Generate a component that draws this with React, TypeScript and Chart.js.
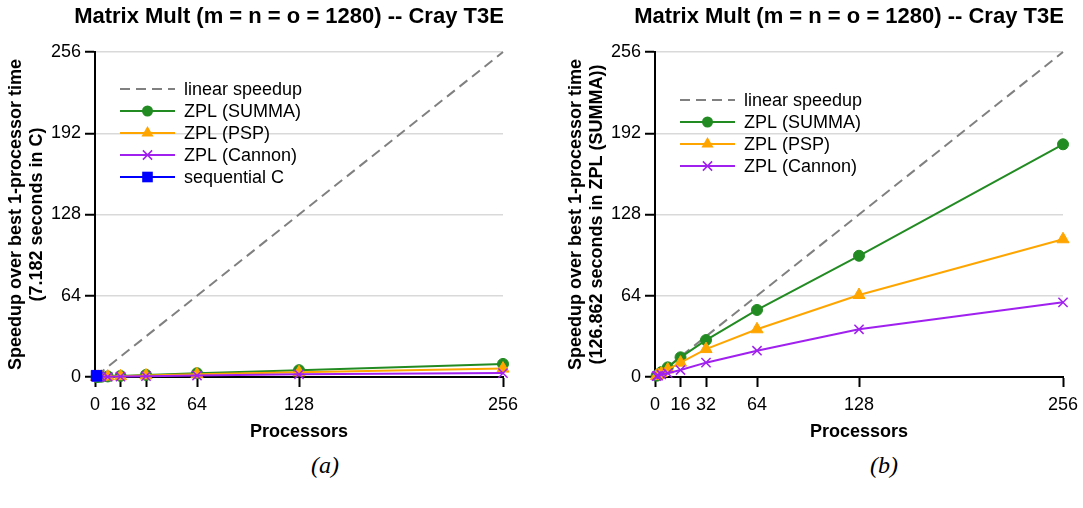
import React, { useEffect, useRef } from "react";
import { Chart, registerables } from "chart.js";

Chart.register(...registerables);

const FONT = "'Liberation Sans', Arial, Helvetica, sans-serif";

// ---- data ----
const processors = [1, 2, 4, 8, 16, 32, 64, 128, 256];
const linearSpeedup = [1, 2, 4, 8, 16, 32, 64, 128, 256];

// (a) speedup relative to sequential C (7.182 s)
const summaA = [0.057, 0.11, 0.22, 0.43, 0.88, 1.65, 2.99, 5.4, 10.3];
const pspA = [0.045, 0.09, 0.17, 0.34, 0.64, 1.25, 2.13, 3.66, 6.6];
const cannonA = [0.034, 0.06, 0.11, 0.17, 0.31, 0.64, 1.17, 2.13, 3.1];
const seqCProcessors = [1];
const seqCA = [1];

// (b) speedup relative to ZPL SUMMA on 1 processor (126.862 s)
const summaB = [1.0, 1.95, 3.9, 7.6, 15.5, 29.1, 52.8, 95.5, 183.3];
const pspB = [0.8, 1.6, 3.0, 6.0, 11.3, 22.0, 37.6, 64.6, 108.5];
const cannonB = [0.6, 1.0, 2.0, 3.0, 5.5, 11.3, 20.7, 37.6, 58.8];

const xTicks = [0, 16, 32, 64, 128, 256];
const yTicks = [0, 64, 128, 192, 256];

const chartTitle = "Matrix Mult (m = n = o = 1280) -- Cray T3E";
const xTitle = "Processors";
const yTitleA = ["Speedup over best 1-processor time", "(7.182 seconds in C)"];
const yTitleB = ["Speedup over best 1-processor time", "(126.862 seconds in ZPL (SUMMA))"];

const GRAY = "#808080";
const GREEN = "#228B22";
const ORANGE = "#FFA500";
const PURPLE = "#A020F0";
const BLUE = "#0000FF";

type SeriesDef = {
  label: string;
  xs: number[];
  ys: number[];
  color: string;
  style: string | null;
  radius: number;
  dash?: boolean;
};

function seriesFor(which: "a" | "b"): SeriesDef[] {
  const base: SeriesDef[] = [
    { label: "linear speedup", xs: processors, ys: linearSpeedup, color: GRAY, style: null, radius: 0, dash: true },
    { label: "ZPL (SUMMA)", xs: processors, ys: which === "a" ? summaA : summaB, color: GREEN, style: "circle", radius: 5.5 },
    { label: "ZPL (PSP)", xs: processors, ys: which === "a" ? pspA : pspB, color: ORANGE, style: "triangle", radius: 7 },
    { label: "ZPL (Cannon)", xs: processors, ys: which === "a" ? cannonA : cannonB, color: PURPLE, style: "crossRot", radius: 6.5 },
  ];
  if (which === "a") {
    base.push({ label: "sequential C", xs: seqCProcessors, ys: seqCA, color: BLUE, style: "rect", radius: 7.5 });
  }
  return base;
}

function drawMarker(ctx: CanvasRenderingContext2D, style: string, x: number, y: number, r: number, color: string) {
  ctx.save();
  ctx.fillStyle = color;
  ctx.strokeStyle = color;
  ctx.lineWidth = 1.5;
  ctx.beginPath();
  if (style === "circle") {
    ctx.arc(x, y, r, 0, Math.PI * 2);
    ctx.fill();
  } else if (style === "triangle") {
    ctx.moveTo(x, y - r);
    ctx.lineTo(x + r * Math.cos(Math.PI / 6), y + r * Math.sin(Math.PI / 6));
    ctx.lineTo(x - r * Math.cos(Math.PI / 6), y + r * Math.sin(Math.PI / 6));
    ctx.closePath();
    ctx.fill();
  } else if (style === "crossRot") {
    const d = r * Math.SQRT1_2;
    ctx.moveTo(x - d, y - d);
    ctx.lineTo(x + d, y + d);
    ctx.moveTo(x - d, y + d);
    ctx.lineTo(x + d, y - d);
    ctx.stroke();
  } else if (style === "rect") {
    const s = r * Math.SQRT1_2;
    ctx.fillRect(x - s, y - s, 2 * s, 2 * s);
  }
  ctx.restore();
}

const decorPlugin = {
  id: "panelDecor",
  afterDraw(chart: any, _args: any, opts: any) {
    const ctx: CanvasRenderingContext2D = chart.ctx;
    const ca = chart.chartArea;
    ctx.save();
    ctx.fillStyle = "#000";
    ctx.font = `bold 22px ${FONT}`;
    ctx.textAlign = "center";
    ctx.textBaseline = "middle";
    ctx.fillText(opts.title, ca.left + 194, 17);

    const items: SeriesDef[] = opts.items;
    const rowH = 22;
    const y0 = ca.top + 81 - ((items.length - 1) * rowH) / 2;
    items.forEach((it, i) => {
      const y = y0 + i * rowH;
      const x1 = ca.left + 25;
      const x2 = ca.left + 80;
      ctx.save();
      ctx.strokeStyle = it.color;
      ctx.lineWidth = 2;
      ctx.setLineDash(it.dash ? [10, 6] : []);
      ctx.beginPath();
      ctx.moveTo(x1, y);
      ctx.lineTo(x2, y);
      ctx.stroke();
      ctx.restore();
      if (it.style) drawMarker(ctx, it.style, (x1 + x2) / 2, y, it.radius, it.color);
      ctx.fillStyle = "#000";
      ctx.font = `18px ${FONT}`;
      ctx.textAlign = "left";
      ctx.textBaseline = "middle";
      ctx.fillText(it.label, ca.left + 89, y + 1);
    });
    ctx.restore();
  },
};

function Panel({ which, width, yTitle }: { which: "a" | "b"; width: number; yTitle: string[] }) {
  const ref = useRef<HTMLCanvasElement | null>(null);
  useEffect(() => {
    if (!ref.current) return;
    const defs = seriesFor(which);
    const n = defs.length;
    const datasets = defs.map((s, i) => ({
      label: s.label,
      data: s.xs.map((x, k) => ({ x, y: s.ys[k] })),
      borderColor: s.color,
      backgroundColor: s.color,
      borderWidth: 2,
      borderDash: s.dash ? [10, 6] : [],
      pointStyle: s.style || "circle",
      pointRadius: s.radius,
      pointBorderWidth: s.style === "crossRot" ? 1.5 : 1,
      pointHoverRadius: s.radius,
      showLine: true,
      tension: 0,
      clip: false as any,
      order: n - i,
    }));
    const chart = new Chart(ref.current, {
      type: "line",
      data: { datasets },
      plugins: [decorPlugin as any],
      options: {
        animation: false,
        responsive: false,
        events: [],
        layout: { padding: { top: 52, right: width - 503, left: 0, bottom: 0 } },
        plugins: {
          legend: { display: false },
          title: { display: false },
          tooltip: { enabled: false },
          panelDecor: { title: chartTitle, items: defs },
        } as any,
        scales: {
          x: {
            type: "linear",
            min: 0,
            max: 256,
            afterBuildTicks: (s: any) => {
              s.ticks = xTicks.map((v) => ({ value: v }));
            },
            afterFit: (s: any) => {
              s.height = 73;
            },
            ticks: {
              font: { family: FONT, size: 18 },
              color: "#000",
              padding: 7,
              maxRotation: 0,
              autoSkip: false,
            },
            grid: {
              drawOnChartArea: false,
              drawTicks: true,
              tickLength: 10,
              tickColor: "#000",
              tickWidth: 2,
            },
            border: { color: "#000", width: 2 },
            title: {
              display: true,
              text: xTitle,
              color: "#000",
              font: { family: FONT, size: 18, weight: "bold" },
              padding: { top: 4, bottom: 7 },
            },
          },
          y: {
            type: "linear",
            min: 0,
            max: 256,
            afterBuildTicks: (s: any) => {
              s.ticks = yTicks.map((v) => ({ value: v }));
            },
            afterFit: (s: any) => {
              s.width = 95;
            },
            ticks: {
              font: { family: FONT, size: 18 },
              color: "#000",
              padding: 4,
            },
            grid: {
              color: "#d9d9d9",
              lineWidth: 1.5,
              tickLength: 10,
              tickColor: "#000",
              tickWidth: 2,
            },
            border: { color: "#000", width: 2 },
            title: {
              display: true,
              text: yTitle,
              color: "#000",
              font: { family: FONT, size: 18, weight: "bold", lineHeight: 1.2 },
              padding: { top: 5, bottom: 0 },
            },
          },
        },
      } as any,
    });
    return () => chart.destroy();
  }, [which, width]);
  return <canvas ref={ref} width={width} height={450} style={{ display: "block", width, height: 450 }} />;
}

export default function App() {
  const caption: React.CSSProperties = {
    position: "absolute",
    top: 452,
    width: 100,
    textAlign: "center",
    fontFamily: "'Liberation Serif', 'Times New Roman', serif",
    fontStyle: "italic",
    fontSize: 24,
    color: "#000",
  };
  return (
    <div style={{ position: "fixed", left: 0, top: 0, width: 1083, height: 508, background: "#fff", overflow: "hidden" }}>
      <div style={{ position: "absolute", left: 0, top: 0 }}>
        <Panel which="a" width={560} yTitle={yTitleA} />
      </div>
      <div style={{ position: "absolute", left: 560, top: 0 }}>
        <Panel which="b" width={560} yTitle={yTitleB} />
      </div>
      <div style={{ ...caption, left: 275 }}>(a)</div>
      <div style={{ ...caption, left: 834 }}>(b)</div>
    </div>
  );
}
